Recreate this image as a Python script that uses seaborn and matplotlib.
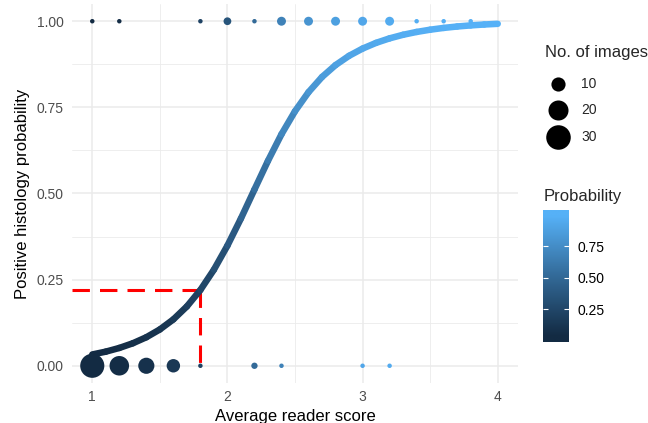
import numpy as np
import pandas as pd
import matplotlib
matplotlib.use("Agg")
import matplotlib.pyplot as plt
import seaborn as sns
from matplotlib.colors import LinearSegmentedColormap, Normalize
from matplotlib.collections import LineCollection

# fitted probability curve, every 0.1 of score
curve_x = [1.0, 1.1, 1.2, 1.3, 1.4, 1.5, 1.6, 1.7, 1.8, 1.9,
           2.0, 2.1, 2.2, 2.3, 2.4, 2.5, 2.6, 2.7, 2.8, 2.9,
           3.0, 3.1, 3.2, 3.3, 3.4, 3.5, 3.6, 3.7, 3.8, 3.9, 4.0]
curve_p = [0.0328, 0.0410, 0.0517, 0.0653, 0.0828, 0.1054, 0.1346, 0.1722, 0.2200, 0.2789,
           0.3487, 0.4275, 0.5115, 0.5948, 0.6720, 0.7388, 0.7941, 0.8382, 0.8727, 0.8996,
           0.9206, 0.9372, 0.9503, 0.9607, 0.9689, 0.9754, 0.9806, 0.9847, 0.9879, 0.9905, 0.9925]

# observed images (positive histology = 1, negative = 0) and their counts
pos_score = [1.0, 1.2, 1.8, 2.0, 2.2, 2.4, 2.6, 2.8, 3.0, 3.2, 3.4, 3.6, 3.8]
pos_n = [1, 1, 1, 3, 1, 4, 4, 4, 4, 4, 1, 1, 1]
neg_score = [1.0, 1.2, 1.4, 1.6, 1.8, 2.2, 2.4, 3.0, 3.2]
neg_n = [29, 19, 13, 9, 1, 2, 1, 1, 1]

cutoff_score = 1.8
cutoff_prob = 0.22

size_breaks = [10, 20, 30]
prob_breaks = [0.25, 0.50, 0.75]

sns.set_theme(style="white")
plt.rcParams['font.family'] = ['Liberation Sans', 'DejaVu Sans']

cmap = LinearSegmentedColormap.from_list("gg", ["#132B43", "#336A98", "#56B1F7"])
norm = Normalize(min(curve_p), max(curve_p))

lookup = dict(zip(np.round(curve_x, 1), curve_p))
pts = pd.DataFrame({
    "score": pos_score + neg_score,
    "outcome": [1] * len(pos_score) + [0] * len(neg_score),
    "n": pos_n + neg_n,
})
pts["prob"] = [lookup[round(s, 1)] for s in pts["score"]]

fig = plt.figure(figsize=(6.48, 4.23), dpi=100)
ax = fig.add_axes([72 / 648, 40 / 423, 446 / 648, 379 / 423])

# red dashed guide lines
ax.plot([0.85, cutoff_score], [cutoff_prob, cutoff_prob], color="#FF0000",
        lw=2.2, dashes=(5.7, 3.3), zorder=2)
ax.plot([cutoff_score, cutoff_score], [cutoff_prob, 0], color="#FF0000",
        lw=2.2, dashes=(5.7, 3.3), zorder=2)

# curve coloured by probability
xy = np.column_stack([curve_x, curve_p])
segs = np.stack([xy[:-1], xy[1:]], axis=1)
mid = (np.array(curve_p[:-1]) + np.array(curve_p[1:])) / 2
lc = LineCollection(segs, colors=cmap(norm(mid)), linewidths=4.7,
                    capstyle="round", joinstyle="round", zorder=3)
ax.add_collection(lc)

sns.scatterplot(data=pts, x="score", y="outcome", hue="prob", size="n",
                palette=cmap, hue_norm=norm, sizes=(0, 312), size_norm=(0, 30),
                linewidth=0, legend=False, ax=ax, zorder=4)

ax.set_xlim(0.85, 4.15)
ax.set_ylim(-0.05, 1.05)
ax.set_xticks([1, 2, 3, 4])
ax.set_xticks([1.5, 2.5, 3.5], minor=True)
ax.set_yticks([0, 0.25, 0.5, 0.75, 1.0])
ax.set_yticklabels(["0.00", "0.25", "0.50", "0.75", "1.00"])
ax.set_yticks([0.125, 0.375, 0.625, 0.875], minor=True)
ax.grid(which="major", color="#EBEBEB", lw=1.1)
ax.grid(which="minor", color="#EBEBEB", lw=0.6)
ax.set_axisbelow(True)
for sp in ax.spines.values():
    sp.set_visible(False)
ax.tick_params(which="both", length=0, labelsize=10, labelcolor="#4D4D4D")
ax.tick_params(axis="x", pad=5)
ax.tick_params(axis="y", pad=6)
ax.set_xlabel("Average reader score", fontsize=12, color="black", labelpad=3.5)
ax.set_ylabel("Positive histology probability", fontsize=12, color="black", labelpad=5)

# size legend
lax = fig.add_axes([0, 0, 1, 1])
lax.set_xlim(0, 648)
lax.set_ylim(423, 0)
lax.axis("off")
lax.patch.set_visible(False)
lax.text(545, 53, "No. of images", fontsize=12, va="center", ha="left")
for b, yy in zip(size_breaks, [84, 110, 137]):
    lax.scatter([558], [yy], s=10.4 * b, color="black", linewidths=0)
    lax.text(581, yy, str(b), fontsize=10, va="center", ha="left")

# colourbar
lo, hi = -0.012, 1.036
cax = fig.add_axes([543 / 648, (423 - 342) / 423, 26 / 648, 132 / 423])
grad = np.linspace(lo, hi, 300)[:, None]
cax.imshow(grad, origin="lower", extent=[0, 1, lo, hi], aspect="auto",
           cmap=cmap, norm=norm)
cax.set_xlim(0, 1)
cax.set_ylim(lo, hi)
cax.hlines(prob_breaks, 0, 0.2, color="white", lw=0.8)
cax.hlines(prob_breaks, 0.8, 1, color="white", lw=0.8)
cax.set_xticks([])
cax.yaxis.tick_right()
cax.set_yticks(prob_breaks)
cax.set_yticklabels([f"{b:.2f}" for b in prob_breaks])
cax.tick_params(axis="y", length=0, pad=6, labelsize=10, labelcolor="black")
for sp in cax.spines.values():
    sp.set_visible(False)
fig.text(544 / 648, 1 - 196 / 423, "Probability", fontsize=12, va="center", ha="left")

fig.savefig("out.png", dpi=100)
